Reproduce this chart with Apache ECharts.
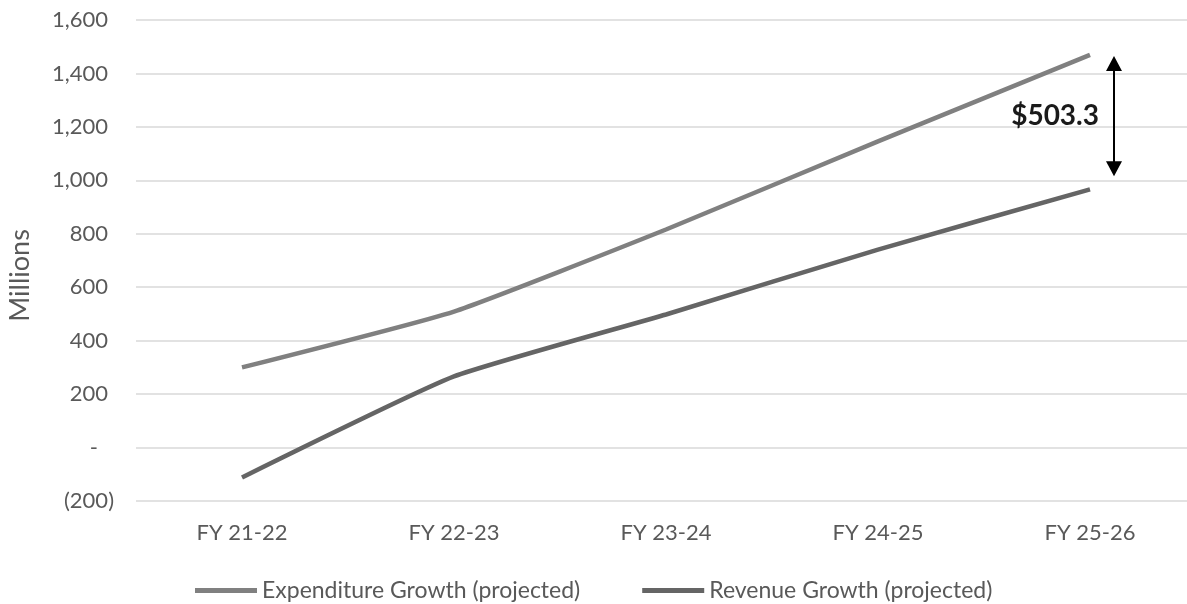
<!DOCTYPE html>
<html>
<head>
<meta charset="utf-8">
<script src="https://cdn.jsdelivr.net/npm/echarts@6/dist/echarts.min.js"></script>
<style>html,body{margin:0;padding:0;background:#fff;}#c{width:1187px;height:604px;}</style>
</head>
<body>
<div id="c"></div>
<script>
const categories = ['FY 21-22', 'FY 22-23', 'FY 23-24', 'FY 24-25', 'FY 25-26'];
const expenditure = [300, 509, 816, 1146, 1469.3];
const revenue = [-112, 266, 498, 741, 966.0];
const seriesNames = ['Expenditure Growth (projected)', 'Revenue Growth (projected)'];
const yTicks = { min: -200, max: 1600, interval: 200 };
const gapLabel = '$503.3';
const gapTop = 1465;
const gapBottom = 1015;

const FONT = 'Lato';
const TXT = '#595959';

function fmt(v) {
  if (v === 0) return '{z|-}';
  if (v < 0) return '{n|(' + Math.abs(v).toLocaleString('en-US') + ')}';
  return '{p|' + v.toLocaleString('en-US') + '}';
}
const richBase = { fontFamily: FONT, fontSize: 22, color: TXT };

const chart = echarts.init(document.getElementById('c'));
chart.setOption({
  animation: false,
  backgroundColor: '#fff',
  grid: { left: 136, top: 20, width: 1060, bottom: 103, containLabel: false, outerBoundsMode: 'none' },
  legend: {
    data: seriesNames,
    left: 190, top: 574,
    itemWidth: 62, itemHeight: 5, itemGap: 62,
    icon: 'rect',
    textStyle: { fontFamily: FONT, fontSize: 23, color: TXT }
  },
  xAxis: {
    type: 'category',
    data: categories,
    boundaryGap: true,
    axisLine: { show: false },
    axisTick: { show: false },
    axisLabel: { fontFamily: FONT, fontSize: 22, color: TXT, margin: 21 }
  },
  yAxis: {
    type: 'value',
    min: yTicks.min, max: yTicks.max, interval: yTicks.interval,
    name: 'Millions',
    nameLocation: 'middle',
    nameGap: 102,
    nameTextStyle: { fontFamily: FONT, fontSize: 27, color: TXT, padding: [0, 30, 0, 0] },
    axisLine: { show: false },
    axisTick: { show: false },
    splitLine: { lineStyle: { color: '#d9d9d9', width: 1.5 } },
    axisLabel: {
      margin: 22,
      formatter: fmt,
      rich: {
        p: Object.assign({}, richBase, { padding: [0, 6, 0, 0] }),
        n: Object.assign({}, richBase),
        z: Object.assign({}, richBase, { padding: [0, 16, 0, 0] })
      }
    }
  },
  series: [
    {
      name: seriesNames[0], type: 'line', data: expenditure,
      symbol: 'none', smooth: 0.15,
      lineStyle: { color: '#808080', width: 4.5 },
      itemStyle: { color: '#808080' }
    },
    {
      name: seriesNames[1], type: 'line', data: revenue,
      symbol: 'none', smooth: 0.15,
      lineStyle: { color: '#656565', width: 4.5 },
      itemStyle: { color: '#656565' }
    }
  ]
});

// Annotation arrow and label
const lastCat = categories[categories.length - 1];
const px = chart.convertToPixel({ xAxisIndex: 0 }, lastCat) + 24;
const yTop = chart.convertToPixel({ yAxisIndex: 0 }, gapTop);
const yBot = chart.convertToPixel({ yAxisIndex: 0 }, gapBottom);
const head = 15, hw = 8;
chart.setOption({
  graphic: [
    { type: 'line', shape: { x1: px, y1: yTop + head - 1, x2: px, y2: yBot - head + 1 }, style: { stroke: '#000', lineWidth: 2 } },
    { type: 'polygon', shape: { points: [[px, yTop], [px - hw, yTop + head], [px + hw, yTop + head]] }, style: { fill: '#000' } },
    { type: 'polygon', shape: { points: [[px, yBot], [px - hw, yBot - head], [px + hw, yBot - head]] }, style: { fill: '#000' } },
    { type: 'text', x: px - 15, y: (yTop + yBot) / 2, style: { text: gapLabel, fontFamily: FONT, fontWeight: 'bold', fontSize: 28, fill: '#1a1a1a', align: 'right', verticalAlign: 'middle' } }
  ]
});
</script>
</body>
</html>
